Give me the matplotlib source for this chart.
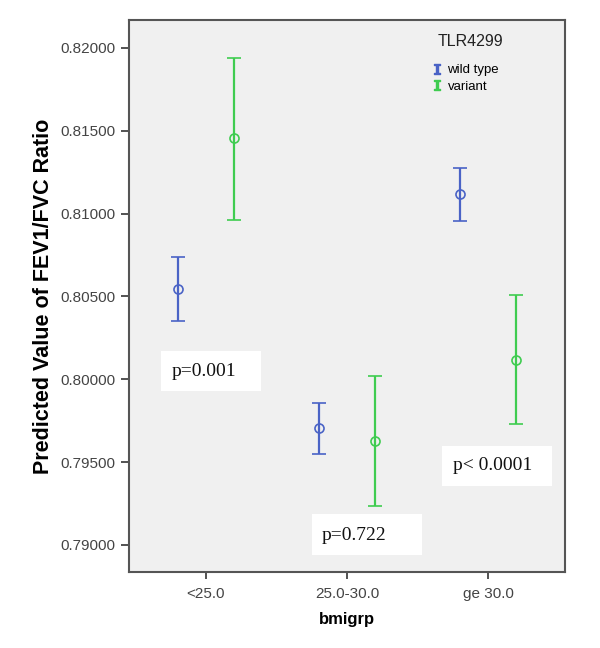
import matplotlib
matplotlib.use("Agg")
import matplotlib.pyplot as plt
from matplotlib.lines import Line2D
from matplotlib.patches import Rectangle
import numpy as np

plt.rcParams['font.family'] = ['Liberation Sans', 'DejaVu Sans']

categories = ["<25.0", "25.0-30.0", "ge 30.0"]
wild_mean = [0.80545, 0.79705, 0.81118]
wild_low = [0.80351, 0.79548, 0.80955]
wild_high = [0.80738, 0.79856, 0.81275]
var_mean = [0.81457, 0.79627, 0.80116]
var_low = [0.80961, 0.79234, 0.79729]
var_high = [0.81940, 0.80019, 0.80509]
yticks = [0.790, 0.795, 0.800, 0.805, 0.810, 0.815, 0.820]
pvals = ["p=0.001", "p=0.722", "p< 0.0001"]

blue = '#4A63C6'
green = '#3FCC50'

fig = plt.figure(figsize=(6, 6.48), dpi=100)
ax = fig.add_axes([129/600, 1-572/648, 436/600, 552/648])
ax.set_facecolor('#F0F0F0')

x = np.arange(len(categories))
off = 0.2
wm = np.array(wild_mean); vm = np.array(var_mean)
ax.errorbar(x - off, wm, yerr=[wm - np.array(wild_low), np.array(wild_high) - wm],
            fmt='o', color=blue, mfc='none', mec=blue, ms=6.5, mew=1.2,
            elinewidth=1.6, capsize=5, capthick=1.6, zorder=3)
ax.errorbar(x + off, vm, yerr=[vm - np.array(var_low), np.array(var_high) - vm],
            fmt='o', color=green, mfc='none', mec=green, ms=6.5, mew=1.2,
            elinewidth=1.6, capsize=5, capthick=1.6, zorder=3)

ax.set_xlim(-0.546, 2.546)
ax.set_ylim(0.78837, 0.82169)
ax.set_xticks(x)
ax.set_xticklabels(categories)
ax.set_yticks(yticks)
ax.set_yticklabels([f"{v:.5f}" for v in yticks])
ax.tick_params(axis='both', direction='out', length=6, width=1.3, color='#444444',
               labelcolor='#444444', labelsize=11)
ax.tick_params(axis='x', length=5, pad=6)
for s in ax.spines.values():
    s.set_color('#555555')
    s.set_linewidth(1.5)

ax.set_ylabel("Predicted Value of FEV1/FVC Ratio", fontsize=15.5, fontweight='bold', labelpad=5)
ax.set_xlabel("bmigrp", fontsize=12, fontweight='bold', labelpad=8)

# legend
ax.text((438-129)/436, (572-42)/552, "TLR4299", transform=ax.transAxes, ha='left',
        va='center', fontsize=11.5, color='#222222')
handles = [Line2D([], [], linestyle='none', marker=r'$\mathtt{I}$', color=blue, ms=7),
           Line2D([], [], linestyle='none', marker=r'$\mathtt{I}$', color=green, ms=7)]
leg = ax.legend(handles, ["wild type", "variant"], loc='upper left',
                bbox_to_anchor=((433-129)/436, (572-64)/552), frameon=False, fontsize=9.5,
                handlelength=0.6, handletextpad=0.5, labelspacing=0.35, borderaxespad=0,
                borderpad=0)

boxes = [(161, 351, 261, 391), (312, 514, 422, 555), (442, 446, 552, 486)]
texts = [(172, 372), (322, 535), (453, 466)]
for (x0, y0, x1, y1), (tx, ty), p in zip(boxes, texts, pvals):
    ax.add_patch(Rectangle(((x0-129)/436, (572-y1)/552), (x1-x0)/436, (y1-y0)/552,
                           transform=ax.transAxes, facecolor='white', edgecolor='none', zorder=4))
    ax.text((tx-129)/436, (572-ty)/552, p, transform=ax.transAxes, ha='left', va='center',
            fontsize=14, family=['Liberation Serif', 'DejaVu Serif'], color='#111111', zorder=5)

fig.savefig("out.png", dpi=100)
